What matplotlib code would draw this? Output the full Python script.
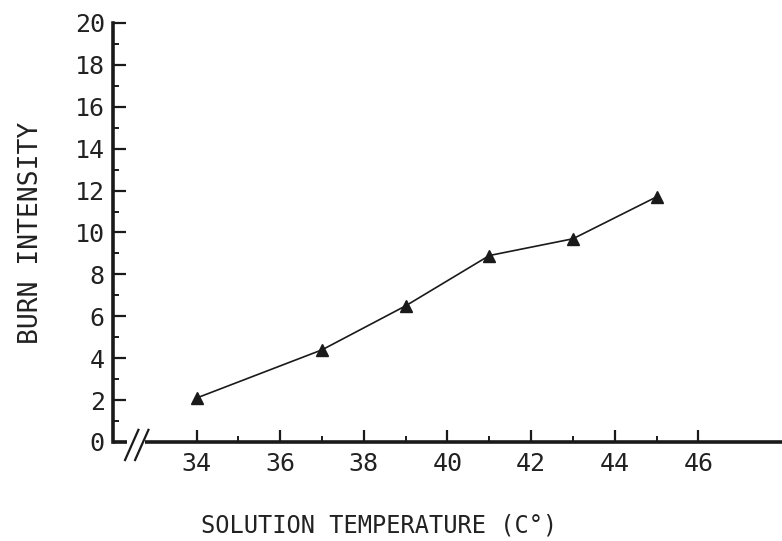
import matplotlib.pyplot as plt
from matplotlib.ticker import FixedLocator

# solution temperature (C) vs burn intensity
temps = [34, 37, 39, 41, 43, 45]
burn = [2.1, 4.4, 6.5, 8.9, 9.7, 11.7]

x_major = [34, 36, 38, 40, 42, 44, 46]
x_minor = [35, 37, 39, 41, 43, 45]
y_major = list(range(0, 21, 2))
y_minor = list(range(1, 20, 2))

plt.rcParams['font.family'] = ['DejaVu Sans Mono']
ink = '#1a1a1a'

fig = plt.figure(figsize=(7.82, 5.41), dpi=100)
ax = fig.add_axes([0.1445, 0.183, 0.8555, 0.7745])

ax.plot(temps, burn, color=ink, lw=1.2, marker='^', ms=9,
        markerfacecolor=ink, markeredgecolor=ink, clip_on=False)

ax.set_xlim(32, 48)
ax.set_ylim(0, 20)

for s in ['top', 'right', 'bottom']:
    ax.spines[s].set_visible(False)
ax.spines['left'].set_linewidth(2.6)
ax.spines['left'].set_color(ink)

# broken x axis: short stub, two slashes, then the rest of the line
ax.plot([0, 0.021], [0, 0], transform=ax.transAxes, color=ink, lw=2.6,
        clip_on=False, solid_capstyle='butt')
ax.plot([0.048, 1.0], [0, 0], transform=ax.transAxes, color=ink, lw=2.6,
        clip_on=False, solid_capstyle='butt')
for x0 in [0.018, 0.033]:
    ax.plot([x0, x0 + 0.02], [-0.043, 0.029], transform=ax.transAxes,
            color=ink, lw=1.6, clip_on=False)

ax.xaxis.set_major_locator(FixedLocator(x_major))
ax.xaxis.set_minor_locator(FixedLocator(x_minor))
ax.yaxis.set_major_locator(FixedLocator(y_major))
ax.yaxis.set_minor_locator(FixedLocator(y_minor))

ax.tick_params(axis='both', which='major', direction='in', length=9,
               width=1.6, color=ink, labelsize=18, labelcolor='#222222')
ax.tick_params(axis='both', which='minor', direction='in', length=4.5,
               width=1.4, color=ink)
ax.tick_params(axis='x', which='major', pad=7)
ax.tick_params(axis='y', which='major', pad=6)

ax.set_xlabel('SOLUTION TEMPERATURE (C°)', fontsize=17, color='#222222')
ax.xaxis.set_label_coords(0.398, -0.17)
ax.set_ylabel('BURN INTENSITY', fontsize=19, labelpad=22, color='#222222')

fig.savefig('out.png', dpi=100)
